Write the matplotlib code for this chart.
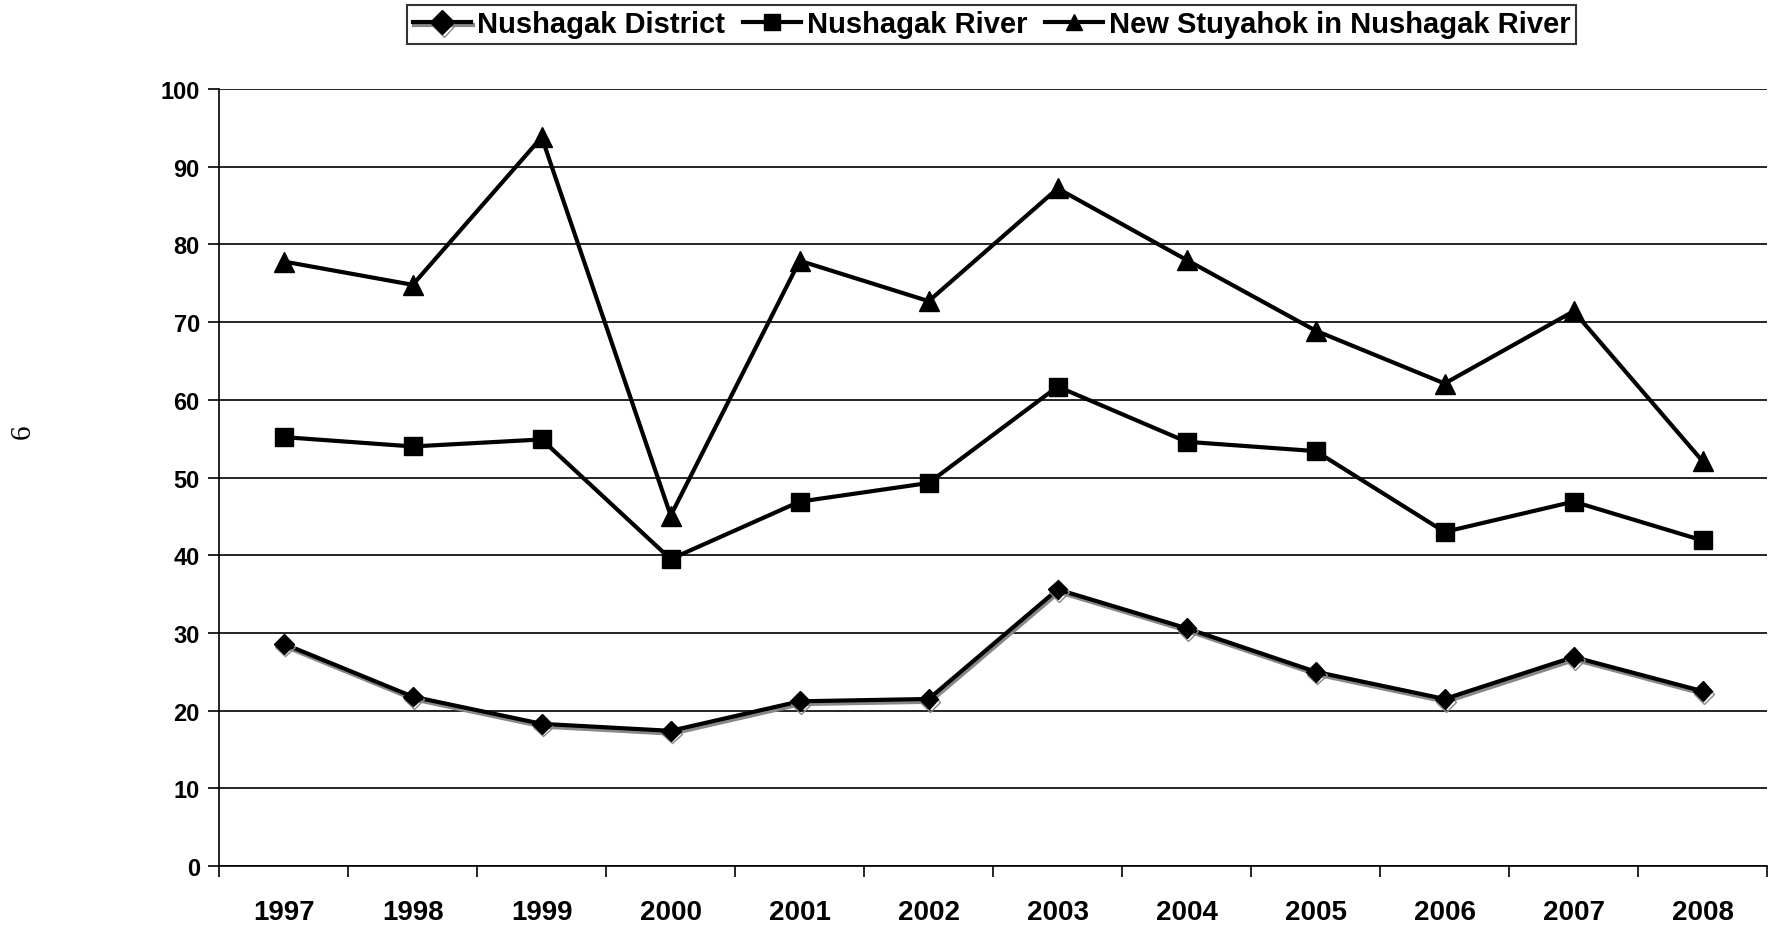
import numpy as np
import matplotlib.pyplot as plt
import matplotlib.patheffects as pe
from matplotlib.ticker import FixedLocator, NullFormatter

plt.rcParams['font.family'] = ['Liberation Sans', 'DejaVu Sans']
plt.rcParams['font.weight'] = 'bold'

years = ['1997', '1998', '1999', '2000', '2001', '2002',
         '2003', '2004', '2005', '2006', '2007', '2008']
district = [28.6, 21.8, 18.3, 17.4, 21.2, 21.5, 35.6, 30.6, 25.0, 21.5, 26.9, 22.5]
river = [55.2, 54.0, 54.9, 39.5, 46.9, 49.3, 61.7, 54.6, 53.4, 43.0, 46.9, 41.9]
stuyahok = [77.8, 74.8, 93.8, 45.1, 77.9, 72.7, 87.2, 78.0, 68.9, 62.1, 71.4, 52.1]

fig = plt.figure(figsize=(17.68, 9.29), dpi=100)
ax = fig.add_axes([0.124, 0.0667, 0.8755, 0.8364])

x = np.arange(len(years))

l1, = ax.plot(x, district, color='black', lw=3, marker='D', ms=10,
              path_effects=[pe.SimpleLineShadow(offset=(1, -2), shadow_color='#888888', alpha=1),
                            pe.Normal()])
l2, = ax.plot(x, river, color='black', lw=3, marker='s', ms=13)
l3, = ax.plot(x, stuyahok, color='black', lw=3, marker='^', ms=15)

ax.set_ylim(0, 100)
ax.set_xlim(-0.5, len(years) - 0.5)
ax.set_yticks(np.arange(0, 101, 10))
ax.yaxis.grid(True, color='black', lw=1.2)
ax.set_axisbelow(True)

ax.set_xticks(x)
ax.set_xticklabels(years, fontsize=20, fontweight='bold')
ax.tick_params(axis='x', which='major', length=0, pad=24)
ax.xaxis.set_minor_locator(FixedLocator(np.arange(-0.5, len(years), 1.0)))
ax.xaxis.set_minor_formatter(NullFormatter())
ax.tick_params(axis='x', which='minor', length=8, width=1.2, direction='out')
ax.tick_params(axis='y', length=8, width=1.2, labelsize=17, pad=6)
for lab in ax.get_yticklabels():
    lab.set_fontweight('bold')

for s in ['top', 'right']:
    ax.spines[s].set_visible(False)
ax.spines['left'].set_linewidth(1.2)
ax.spines['bottom'].set_linewidth(1.2)

leg = fig.legend([l1, l2, l3],
                 ['Nushagak District', 'Nushagak River', 'New Stuyahok in Nushagak River'],
                 loc='upper center', bbox_to_anchor=(0.561, 0.994), ncol=3,
                 prop={'size': 21, 'weight': 'bold'}, frameon=True, fancybox=False,
                 edgecolor='black', handlelength=2.0, handletextpad=0.2,
                 columnspacing=0.6, borderpad=0.2, borderaxespad=0.0)
leg.get_frame().set_linewidth(1.5)
for h in leg.legend_handles:
    h.set_markersize(12)

fig.text(0.013, 0.535, '6', rotation=90, fontsize=21, fontweight='normal',
         family='Liberation Serif', va='center', ha='center')

fig.savefig('out.png', dpi=100)
